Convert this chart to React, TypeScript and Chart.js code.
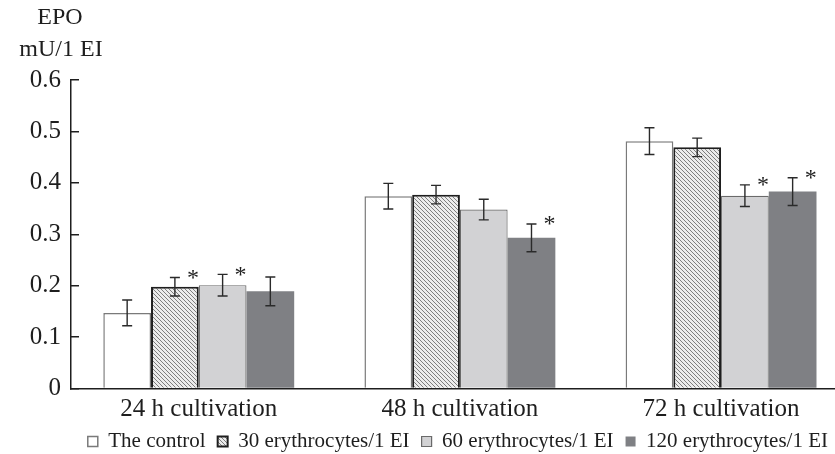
import React, { useEffect, useRef } from 'react';
import { Chart, registerables } from 'chart.js';

Chart.register(...registerables);

const categories = ['24 h cultivation', '48 h cultivation', '72 h cultivation'];
const seriesNames = ['The control', '30 erythrocytes/1 EI', '60 erythrocytes/1 EI', '120 erythrocytes/1 EI'];

const controlValues = [0.147, 0.374, 0.481];
const ery30Values = [0.198, 0.377, 0.469];
const ery60Values = [0.201, 0.348, 0.375];
const ery120Values = [0.189, 0.293, 0.383];

const controlErrors = [0.025, 0.025, 0.026];
const ery30Errors = [0.018, 0.018, 0.018];
const ery60Errors = [0.021, 0.02, 0.021];
const ery120Errors = [0.028, 0.027, 0.027];

const controlSignificant = [false, false, false];
const ery30Significant = [true, false, false];
const ery60Significant = [true, false, true];
const ery120Significant = [false, true, true];

const yTickValues = [0, 0.1, 0.2, 0.3, 0.4, 0.5, 0.6];
const axisTitleLines = ['EPO', 'mU/1 EI'];

const seriesValues = [controlValues, ery30Values, ery60Values, ery120Values];
const seriesErrors = [controlErrors, ery30Errors, ery60Errors, ery120Errors];
const seriesSignificant = [controlSignificant, ery30Significant, ery60Significant, ery120Significant];

const FONT = "'Liberation Serif', 'Times New Roman', serif";
const INK = '#1e1e1e';

function makeHatch(): CanvasPattern | string {
  const c = document.createElement('canvas');
  c.width = 4;
  c.height = 4;
  const g = c.getContext('2d');
  if (!g) return '#bbbbbb';
  g.fillStyle = '#ececec';
  g.fillRect(0, 0, 4, 4);
  g.strokeStyle = '#626262';
  g.lineWidth = 0.8;
  g.beginPath();
  g.moveTo(-1, -1);
  g.lineTo(5, 5);
  g.moveTo(-1, 3);
  g.lineTo(1, 5);
  g.moveTo(3, -1);
  g.lineTo(5, 1);
  g.stroke();
  return g.createPattern(c, 'repeat') || '#bbbbbb';
}

const errorBarPlugin = {
  id: 'errorBars',
  afterDatasetsDraw(chart: any) {
    const ctx = chart.ctx as CanvasRenderingContext2D;
    const yScale = chart.scales.y;
    ctx.save();
    chart.data.datasets.forEach((_ds: any, di: number) => {
      const meta = chart.getDatasetMeta(di);
      meta.data.forEach((bar: any, i: number) => {
        const v = seriesValues[di][i];
        const e = seriesErrors[di][i];
        const top = yScale.getPixelForValue(v + e);
        const bot = yScale.getPixelForValue(v - e);
        const x = bar.x;
        ctx.strokeStyle = '#2a2a2a';
        ctx.lineWidth = 1.4;
        ctx.beginPath();
        ctx.moveTo(x, top);
        ctx.lineTo(x, bot);
        ctx.moveTo(x - 5, top);
        ctx.lineTo(x + 5, top);
        ctx.moveTo(x - 5, bot);
        ctx.lineTo(x + 5, bot);
        ctx.stroke();
        if (seriesSignificant[di][i]) {
          ctx.fillStyle = INK;
          ctx.font = `24px ${FONT}`;
          ctx.textAlign = 'center';
          ctx.textBaseline = 'middle';
          ctx.fillText('*', x + 18, top + 1);
        }
      });
    });
    ctx.restore();
  },
};

const axisTitlePlugin = {
  id: 'axisTitle',
  afterDraw(chart: any) {
    const ctx = chart.ctx as CanvasRenderingContext2D;
    ctx.save();
    ctx.fillStyle = INK;
    ctx.font = `24px ${FONT}`;
    ctx.textAlign = 'center';
    ctx.textBaseline = 'middle';
    ctx.fillText(axisTitleLines[0], 60, 18);
    ctx.fillText(axisTitleLines[1], 61, 50);
    ctx.restore();
  },
};

export default function App() {
  const canvasRef = useRef<HTMLCanvasElement | null>(null);

  useEffect(() => {
    if (!canvasRef.current) return;
    const hatch = makeHatch();
    const fills = ['#ffffff', hatch, '#d2d2d4', '#7f8084'];
    const borders = ['#7a7a7a', '#1e1e1e', '#6a6a6a', '#7f8084'];
    const borderWidths = [1.5, 2, 1.2, 0];

    const chart = new Chart(canvasRef.current, {
      type: 'bar',
      data: {
        datasets: seriesNames.map((name, di) => ({
          label: name,
          data: seriesValues[di].map((v, i) => ({ x: i + 1, y: v })),
          backgroundColor: fills[di] as any,
          borderColor: borders[di],
          borderWidth: borderWidths[di],
          categoryPercentage: 0.731,
          barPercentage: 1,
        })),
      },
      options: {
        responsive: false,
        animation: false,
        layout: { padding: { top: 80, left: 0, right: 0, bottom: 0 } },
        plugins: {
          legend: {
            position: 'bottom',
            align: 'end',
            labels: {
              boxWidth: 10,
              boxHeight: 10,
              padding: 12,
              color: INK,
              font: { family: FONT, size: 21 },
            },
          },
          tooltip: { enabled: false },
        },
        scales: {
          x: {
            type: 'linear',
            offset: false,
            min: 0.5108,
            max: 3.4555,
            grid: { display: false, drawTicks: false, offset: false },
            border: { display: true, color: INK, width: 1.5 },
            ticks: {
              color: INK,
              font: { family: FONT, size: 25 },
              padding: 6,
              autoSkip: false,
              maxRotation: 0,
              callback: (v: any) => categories[Math.round(Number(v)) - 1] ?? '',
            },
            afterBuildTicks: (s: any) => {
              s.ticks = categories.map((_, i) => ({ value: i + 1 }));
            },
            afterFit: (s: any) => {
              s.height = 30.5;
            },
          },
          y: {
            min: yTickValues[0],
            max: yTickValues[yTickValues.length - 1],
            grid: { drawOnChartArea: false, tickLength: -8, color: INK, lineWidth: 1.5 },
            border: { display: true, color: INK, width: 1.5 },
            ticks: {
              stepSize: 0.1,
              padding: 18,
              color: INK,
              font: { family: FONT, size: 25 },
              callback: (v: any) => (Number(v) === 0 ? '0' : Number(v).toFixed(1)),
            },
            afterBuildTicks: (s: any) => {
              s.ticks = yTickValues.map((value) => ({ value }));
            },
            afterFit: (s: any) => {
              s.width = 71;
            },
          },
        },
      },
      plugins: [errorBarPlugin, axisTitlePlugin],
    } as any);

    return () => chart.destroy();
  }, []);

  return (
    <div style={{ position: 'absolute', left: 0, top: 0, width: 835, height: 454, overflow: 'hidden', background: '#fff' }}>
      <canvas ref={canvasRef} width={840} height={462} style={{ display: 'block' }} />
    </div>
  );
}
